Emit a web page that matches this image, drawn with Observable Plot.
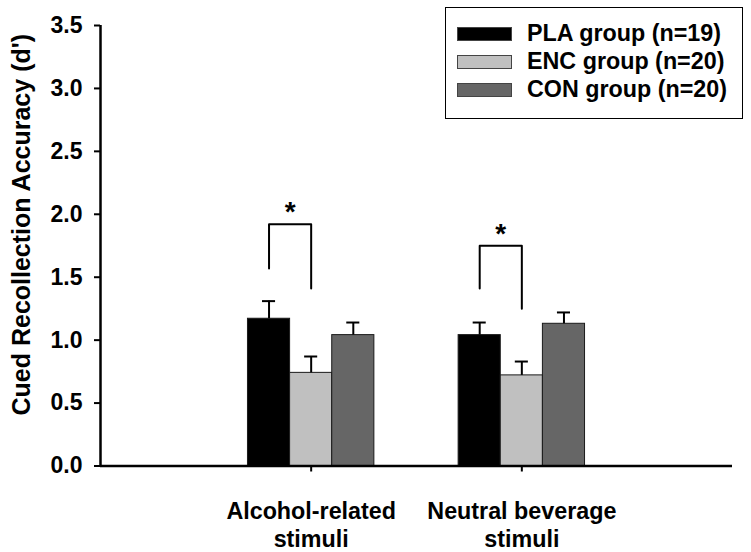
<!DOCTYPE html>
<html>
<head>
<meta charset="utf-8">
<script src="https://cdn.jsdelivr.net/npm/d3@7"></script>
<script src="https://cdn.jsdelivr.net/npm/@observablehq/plot@0.6"></script>
<style>
  body { margin: 0; background: #fff; font-family: "Liberation Sans", Arial, sans-serif; }
  #wrap { position: relative; width: 751px; height: 552px; }
  #legend {
    position: absolute; left: 445px; top: 7px; width: 298px; height: 112px;
    box-sizing: border-box; border: 1.5px solid #000; background: #fff;
    padding: 11.5px 0 0 11px;
  }
  .row { display: flex; align-items: center; height: 28px; font-size: 23.3px; font-weight: bold; color: #000; white-space: nowrap; }
  .sw { width: 55px; height: 14px; box-sizing: border-box; border: 1px solid #444; margin-right: 15px; flex: none; }
</style>
</head>
<body>
<div id="wrap">
  <div id="chart"></div>
  <div id="legend"></div>
</div>
<script>
// ---- data ----
const categories = ["Alcohol-related\nstimuli", "Neutral beverage\nstimuli"];
const groups = ["PLA group (n=19)", "ENC group (n=20)", "CON group (n=20)"];
const groupColors = ["#000000", "#c0c0c0", "#666666"];
const alcoholMeans = [1.17, 0.74, 1.04];
const alcoholErrors = [0.14, 0.13, 0.10];
const neutralMeans = [1.04, 0.72, 1.13];
const neutralErrors = [0.10, 0.11, 0.09];
const yTicks = [0, 0.5, 1.0, 1.5, 2.0, 2.5, 3.0, 3.5];
const yLabel = "Cued Recollection Accuracy (d')";
// significance brackets: between PLA (group 0) and ENC (group 1)
const bracketCategory = [0, 1];
const bracketLeftBottom = [1.57, 1.41];
const bracketTop = [1.92, 1.75];
const bracketRightBottom = [1.41, 1.25];
const bracketMark = ["*", "*"];

// ---- layout helpers (category units) ----
const barWidth = 0.2;
const capHalf = 0.031;
const catPos = i => i + 1;
const barCenter = (c, g) => catPos(c) + (g - 1) * barWidth;

const meansByCat = [alcoholMeans, neutralMeans];
const errsByCat = [alcoholErrors, neutralErrors];
const bars = [];
categories.forEach((cat, c) => {
  groups.forEach((grp, g) => {
    bars.push({cat, group: grp, xc: barCenter(c, g), value: meansByCat[c][g], error: errsByCat[c][g]});
  });
});

const brackets = bracketCategory.map((c, i) => ({
  id: i,
  xl: barCenter(c, 0), xr: barCenter(c, 1),
  lb: bracketLeftBottom[i], top: bracketTop[i], rb: bracketRightBottom[i], mark: bracketMark[i]
}));
const bracketPts = brackets.flatMap(b => [
  {id: b.id, x: b.xl, y: b.lb}, {id: b.id, x: b.xl, y: b.top},
  {id: b.id, x: b.xr, y: b.top}, {id: b.id, x: b.xr, y: b.rb}
]);

const chart = Plot.plot({
  width: 751,
  height: 552,
  marginLeft: 100,
  marginRight: 19,
  marginTop: 25,
  marginBottom: 86.5,
  x: {domain: [0, 3]},
  y: {domain: [0, 3.5]},
  color: {domain: groups, range: groupColors},
  style: {fontFamily: "'Liberation Sans', Arial, sans-serif", fontWeight: "bold", color: "#000", background: "#fff"},
  marks: [
    Plot.rectY(bars, {x1: d => d.xc - barWidth / 2, x2: d => d.xc + barWidth / 2, y: "value", fill: "group", stroke: "#1a1a1a", strokeWidth: 1}),
    Plot.ruleX(bars, {x: "xc", y1: "value", y2: d => d.value + d.error, stroke: "#000", strokeWidth: 2}),
    Plot.ruleY(bars, {y: d => d.value + d.error, x1: d => d.xc - capHalf, x2: d => d.xc + capHalf, stroke: "#000", strokeWidth: 2}),
    Plot.line(bracketPts, {x: "x", y: "y", z: "id", stroke: "#000", strokeWidth: 2}),
    Plot.text(brackets, {x: d => (d.xl + d.xr) / 2, y: "top", text: "mark", dy: -3, lineAnchor: "bottom", fontSize: 28, fontWeight: "bold", fill: "#000"}),
    Plot.axisY({ticks: yTicks, tickFormat: d3.format(".1f"), tickSize: 6, tickPadding: 12, fontSize: 23, fontWeight: "bold", strokeWidth: 2, label: null}),
    Plot.axisX({ticks: [1, 2], tickSize: 6, tickFormat: () => "", strokeWidth: 2, label: null}),
    Plot.text(categories, {x: (d, i) => catPos(i), y: () => 0, text: d => d, dy: 33.5, lineAnchor: "top", lineHeight: 1.2, fontSize: 23.3, fontWeight: "bold", fill: "#000"}),
    Plot.text([yLabel], {frameAnchor: "left", textAnchor: "middle", lineAnchor: "middle", text: d => d, rotate: -90, dx: -79, dy: -21, fontSize: 25, fontWeight: "bold", fill: "#000"}),
    Plot.ruleY([0], {stroke: "#000", strokeWidth: 2.5}),
    Plot.ruleX([0], {stroke: "#000", strokeWidth: 2.5})
  ]
});
document.getElementById("chart").appendChild(chart);

const legend = document.getElementById("legend");
groups.forEach((g, i) => {
  const row = document.createElement("div");
  row.className = "row";
  const sw = document.createElement("span");
  sw.className = "sw";
  sw.style.background = groupColors[i];
  const t = document.createElement("span");
  t.textContent = g;
  row.appendChild(sw);
  row.appendChild(t);
  legend.appendChild(row);
});
</script>
</body>
</html>
